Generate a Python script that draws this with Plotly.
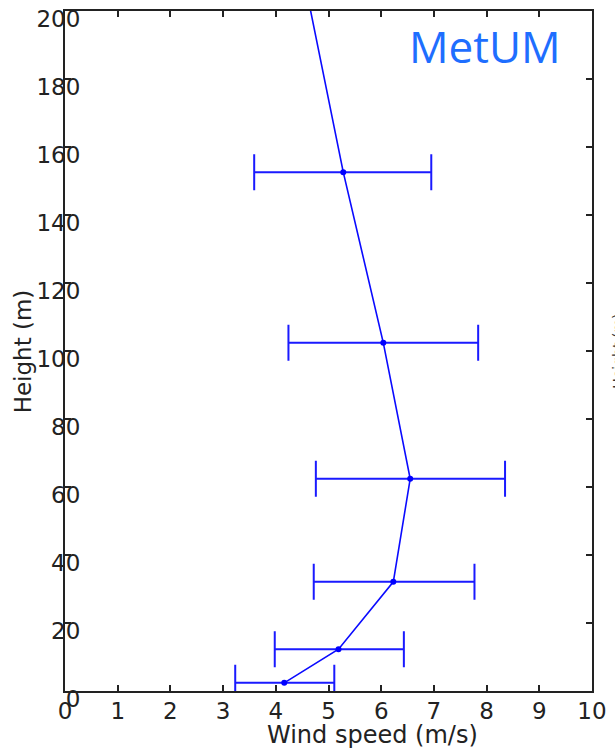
import plotly.graph_objects as go

# Data
heights = [2.4, 12.3, 32.1, 62.4, 102.4, 152.6]
wind_speed = [4.16, 5.19, 6.23, 6.55, 6.04, 5.28]
err_minus = [0.93, 1.21, 1.51, 1.79, 1.80, 1.69]
err_plus = [0.95, 1.24, 1.54, 1.80, 1.80, 1.67]
# profile continues above the plotted range (clipped)
top_height = [220]
top_speed = [4.40]

x_ticks = list(range(0, 11))
y_ticks = list(range(0, 201, 20))

fig = go.Figure()

fig.add_trace(go.Scatter(
    x=wind_speed + top_speed,
    y=heights + top_height,
    mode="lines",
    line=dict(color="#0a0aff", width=1.6),
    hoverinfo="skip",
    showlegend=False,
))
fig.add_trace(go.Scatter(
    x=wind_speed,
    y=heights,
    mode="markers",
    marker=dict(color="#0000ff", size=6),
    error_x=dict(type="data", symmetric=False, array=err_plus, arrayminus=err_minus,
                 color="#1a1aff", thickness=2, width=18),
    showlegend=False,
))

axis_font = dict(family="DejaVu Sans", size=23, color="#222222")

fig.update_xaxes(
    range=[0, 10], tickvals=x_ticks, ticktext=[str(v) for v in x_ticks],
    ticks="inside", ticklen=6, tickwidth=1.5, tickcolor="#222222",
    showline=True, linecolor="#222222", linewidth=2, mirror="ticks",
    showgrid=False, zeroline=False, tickfont=axis_font,
    ticklabelstandoff=-2, automargin=False,
)
fig.update_yaxes(
    range=[0, 200], tickvals=y_ticks, ticktext=[str(v) for v in y_ticks],
    ticks="inside", ticklen=6, tickwidth=1.5, tickcolor="#222222",
    showline=True, linecolor="#222222", linewidth=2, mirror="ticks",
    showgrid=False, zeroline=False, tickfont=axis_font,
    ticklabelstandoff=-22, ticklabelshift=8, automargin=False,
)

fig.add_annotation(
    text="Height (m)", textangle=-90, xref="paper", yref="paper",
    x=-0.079, y=0.5, xanchor="center", yanchor="middle", showarrow=False,
    font=dict(family="DejaVu Sans", size=23, color="#222222"),
)
fig.add_annotation(
    text="Wind speed (m/s)", xref="paper", yref="paper",
    x=0.583, y=-0.065, xanchor="center", yanchor="middle", showarrow=False,
    font=dict(family="DejaVu Sans", size=24, color="#222222"),
)
fig.add_annotation(
    text="MetUM", xref="paper", yref="paper",
    x=0.945, y=0.995, xanchor="right", yanchor="top", showarrow=False,
    font=dict(family="Open Sans", size=44, color="rgb(30,110,255)"),
)
# neighbouring panel's label cut off at the right edge
fig.add_annotation(
    text="Height (m)", textangle=-90, xref="paper", yref="paper",
    x=1.03, y=0.5, xanchor="left", yanchor="middle", showarrow=False,
    font=dict(family="DejaVu Sans", size=14, color="#333333"),
)

fig.update_layout(
    width=615, height=748, autosize=False,
    margin=dict(l=65, r=23, t=11, b=57, autoexpand=False),
    plot_bgcolor="white", paper_bgcolor="white",
)

fig.write_html("out.html")
